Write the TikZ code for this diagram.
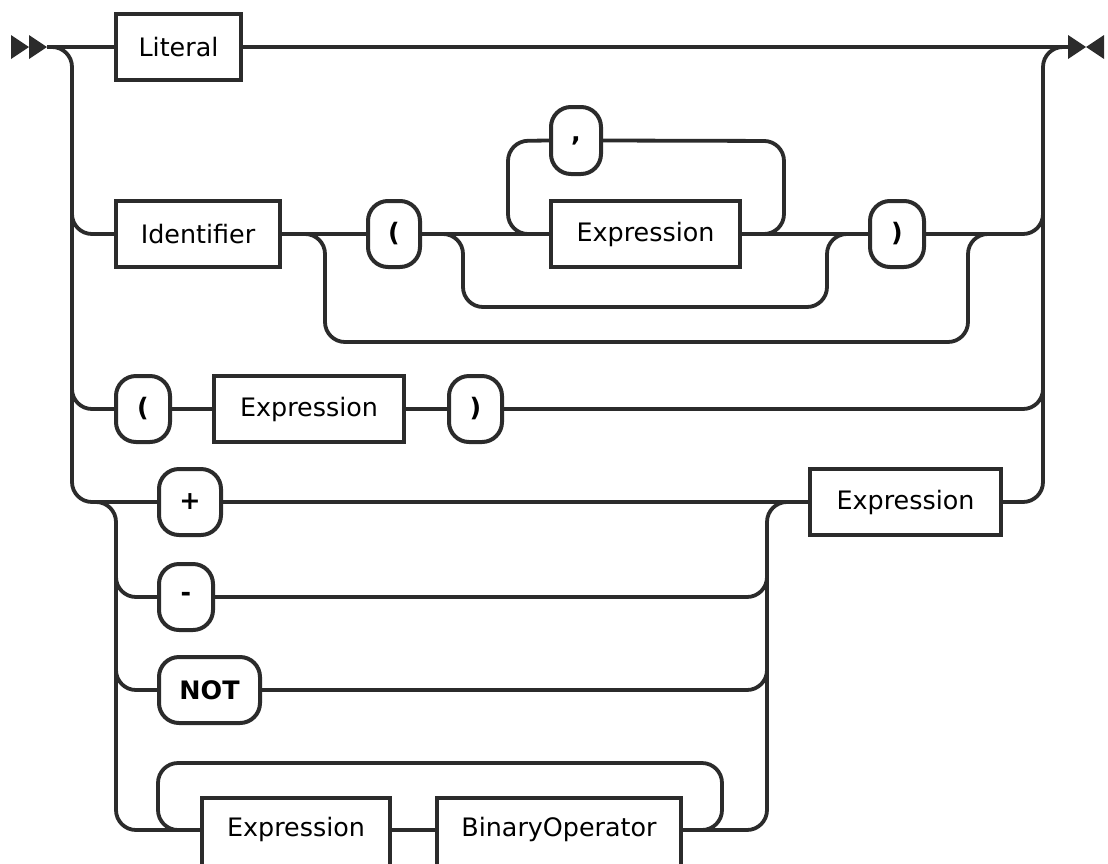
\documentclass[tikz,border=0pt]{standalone}
\usepackage{fontspec}
\setmainfont{DejaVu Sans}
\definecolor{railgray}{HTML}{2B2B2B}

\begin{document}
\begin{tikzpicture}[x=0.5pt, y=-0.5pt,
    rail/.style={line width=1.9pt, draw=railgray, rounded corners=10pt},
    nonterm/.style={draw=railgray, line width=2pt, fill=white, minimum height=33pt,
        inner sep=0pt, text=black, font=\fontsize{12.7}{15}\selectfont},
    term/.style={nonterm, rounded corners=10pt, font=\fontsize{12.7}{15}\selectfont\bfseries}]

    \useasboundingbox (0,0) rectangle (1108,863);

    % Start and end markers
    \fill[railgray] (11,35) -- (29,47) -- (11,59) -- cycle;
    \fill[railgray] (29,35) -- (47,47) -- (29,59) -- cycle;
    \fill[railgray] (1068,35) -- (1086,47) -- (1068,59) -- cycle;
    \fill[railgray] (1104,35) -- (1086,47) -- (1104,59) -- cycle;
    \coordinate (in) at (47,47);
    \coordinate (out) at (1068,47);

    % First row: literal
    \node[nonterm, minimum width=62.5pt] (lit) at (178.5,47) {Literal};

    % Second row: identifier with optional argument list
    \node[nonterm, minimum width=82pt] (ident) at (198,234) {Identifier};
    \node[term, minimum width=26pt] (lparA) at (394,234) {(};
    \node[nonterm, minimum width=94.5pt] (exprA) at (645.5,234) {Expression};
    \node[term, minimum width=25pt, minimum height=33.5pt] (comma) at (576,140.5) {,};
    \node[term, minimum width=27pt] (rparA) at (897,234) {)};

    % Third row: parenthesised expression
    \node[term, minimum width=27pt] (lparB) at (143,409) {(};
    \node[nonterm, minimum width=95pt] (exprB) at (309,409) {Expression};
    \node[term, minimum width=26.5pt] (rparB) at (475.5,409) {)};

    % Unary and binary operators
    \node[term, minimum width=31pt] (plus) at (190,502) {+};
    \node[term, minimum width=27pt] (minus) at (186,597) {-};
    \node[term, minimum width=50.5pt] (notkw) at (209.5,690) {NOT};
    \node[nonterm, minimum width=95.5pt] (exprC) at (905.5,502) {Expression};
    \coordinate (row7) at (0,830);
    \node[nonterm, minimum width=94pt, minimum height=36pt, text depth=7pt] (exprD) at (296,834) {Expression};
    \node[nonterm, minimum width=122pt, minimum height=36pt, text depth=7pt] (binop) at (559,834) {BinaryOperator};

    % Main line and outer rails
    \draw[rail] (in) -- (lit.west);
    \draw[rail] (lit.east) -- (out);
    \draw[rail] (in) -- (72,47) -- (72,502) -- (plus.west);
    \draw[rail] (exprC.east) -- (1043,502) -- (1043,47) -- (out);
    \draw[rail] (72,200) -- (72,234) -- (ident.west);
    \draw[rail] (72,375) -- (72,409) -- (lparB.west);
    \draw[rail] (rparA.east) -- (1043,234) -- (1043,200);
    \draw[rail] (rparB.east) -- (1043,409) -- (1043,375);

    % Argument list
    \draw[rail] (ident.east) -- (lparA.west);
    \draw[rail] (ident.east) -- (325,234) -- (325,342) -- (968,342) -- (968,234) -- (1000,234);
    \draw[rail] (lparA.east) -- (exprA.west);
    \draw[rail] (lparA.east) -- (463,234) -- (463,307) -- (827,307) -- (827,234) -- (rparA.west);
    \draw[rail] (exprA.east) -- (rparA.west);
    \draw[rail] (exprA.east) -- (784,234) -- (784,141) -- (comma.east);
    \draw[rail] (comma.west) -- (508,141) -- (508,234) -- (exprA.west);

    % Parenthesised expression
    \draw[rail] (lparB.east) -- (exprB.west);
    \draw[rail] (exprB.east) -- (rparB.west);

    % Operator rows
    \draw[rail] (plus.east) -- (exprC.west);
    \draw[rail] (92,502) -- (116,502) -- (116,830) -- (exprD.west |- row7);
    \draw[rail] (116,565) -- (116,597) -- (minus.west);
    \draw[rail] (116,660) -- (116,690) -- (notkw.west);
    \draw[rail] (minus.east) -- (767,597) -- (767,565);
    \draw[rail] (notkw.east) -- (767,690) -- (767,660);
    \draw[rail] (binop.east |- row7) -- (767,830) -- (767,502) -- (795,502);
    \draw[rail] (exprD.east |- row7) -- (binop.west |- row7);
    \draw[rail] (binop.east |- row7) -- (722,830) -- (722,763) -- (158,763) -- (158,830) -- (exprD.west |- row7);

\end{tikzpicture}
\end{document}
